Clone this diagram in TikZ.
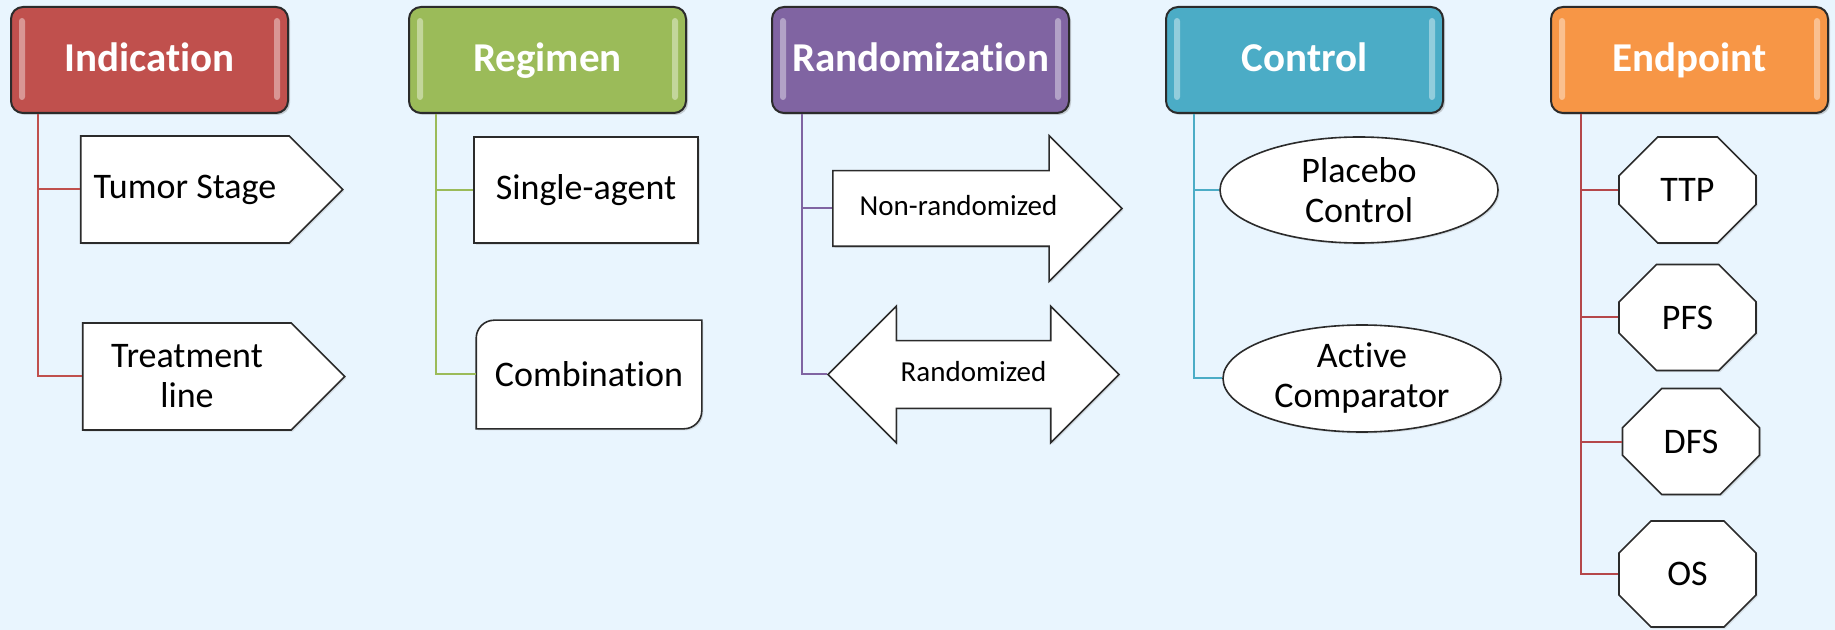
\documentclass[tikz,border=0pt]{standalone}
\usepackage{fontspec}
\setmainfont{Carlito}[Ligatures=NoCommon]
\usetikzlibrary{
  shapes.geometric,shapes.symbols,shapes.arrows,shapes.misc,
  shadows,backgrounds
}

\definecolor{bgblue}{HTML}{E9F5FE}
\definecolor{indred}{HTML}{C0504D}
\definecolor{reggreen}{HTML}{9BBB59}
\definecolor{ranpurple}{HTML}{8064A2}
\definecolor{conteal}{HTML}{4BACC6}
\definecolor{endorange}{HTML}{F79646}
\definecolor{endline}{HTML}{B5474A}
\definecolor{edge}{HTML}{2B2B2B}

\tikzset{
  header/.style={draw=edge,line width=1pt,rounded corners=6pt,fill=#1,
    minimum width=138.5pt,minimum height=53pt,inner sep=0pt,
    text height=15pt,text depth=3pt,
    text=white,font=\fontsize{20.5}{24}\selectfont\bfseries,
    drop shadow={shadow xshift=1pt,shadow yshift=-1pt,opacity=.35}},
  leaf/.style={draw=edge,line width=.8pt,fill=white,inner sep=0pt,
    align=center,font=\fontsize{18}{20}\selectfont},
  softshadow/.style={drop shadow={shadow xshift=.8pt,shadow yshift=-.8pt,opacity=.2}},
  smalltext/.style={font=\fontsize{14.5}{16}\selectfont},
  pentagon/.style={signal,signal to=east,signal pointer angle=90,
    minimum width=131pt,minimum height=53.5pt},
  octagon/.style={chamfered rectangle,chamfered rectangle xsep=13pt,
    chamfered rectangle ysep=15pt,minimum width=68.5pt,minimum height=53pt},
  link/.style={draw=#1,line width=1pt}
}

\begin{document}
\begin{tikzpicture}[x=0.5pt,y=0.5pt]
\useasboundingbox (0,0) rectangle (1835,-630);
\begin{scope}[on background layer]
\fill[bgblue] (0,0) rectangle (1835,-630);
\end{scope}

% column heads
\node[header=indred] (ind) at (149.5,-60) {Indication};
\node[header=reggreen] (reg) at (547.5,-60) {Regimen};
\node[header=ranpurple,minimum width=148.5pt] (ran) at (920.5,-60) {Randomization};
\node[header=conteal] (con) at (1304.5,-60) {Control};
\node[header=endorange] (endp) at (1689.5,-60) {Endpoint};

% glossy strips on the heads
\foreach \h in {ind,reg,ran,con,endp}{
  \fill[white,opacity=.4,rounded corners=1.5pt]
    ([xshift=4.5pt,yshift=-6pt]\h.north west) rectangle ([xshift=7.5pt,yshift=7pt]\h.south west);
  \fill[white,opacity=.4,rounded corners=1.5pt]
    ([xshift=-4.5pt,yshift=-6pt]\h.north east) rectangle ([xshift=-7.5pt,yshift=7pt]\h.south east);
}

% indication
\node[leaf,softshadow,pentagon] (ts) at (185,-189.5) {Tumor Stage};
\node[leaf,softshadow,pentagon] (tl) at (187,-376.5) {Treatment\\line};

% regimen
\node[leaf,softshadow,minimum width=112pt,minimum height=53pt] (sa) at (586,-190) {Single-agent};
\node[leaf,draw=none,fill=none,minimum width=112pt,minimum height=53.5pt] (cb) at (589,-374.5) {Combination};
\begin{scope}[on background layer]
\draw[leaf,softshadow] ([xshift=9pt]cb.north west) -- (cb.north east) -- ([yshift=9pt]cb.south east)
  arc[start angle=0,end angle=-90,radius=9pt] -- (cb.south west) -- ([yshift=-9pt]cb.north west)
  arc[start angle=180,end angle=90,radius=9pt] -- cycle;
\end{scope}

% randomization
\node[leaf,softshadow,smalltext,single arrow,single arrow tip angle=90,single arrow head extend=17.5pt,
  text height=10pt,text depth=3pt,inner ysep=12pt,
  minimum width=72pt,minimum height=144.5pt] (nr) at (958.5,-208.5) {Non-randomized};
\node[leaf,softshadow,smalltext,double arrow,double arrow tip angle=90,double arrow head extend=17.25pt,
  text height=10pt,text depth=3pt,inner ysep=10pt,
  minimum width=67.5pt,minimum height=145.5pt] (rd) at (973.5,-374.5) {Randomized};

% control
\node[leaf,softshadow,ellipse,minimum width=139pt,minimum height=53pt] (pc) at (1359,-190) {Placebo\\Control};
\node[leaf,softshadow,ellipse,minimum width=139pt,minimum height=53.5pt] (ac) at (1362,-378.5) {Active\\Comparator};

% endpoint
\node[leaf,softshadow,octagon] (ttp) at (1687.5,-190) {TTP};
\node[leaf,softshadow,octagon] (pfs) at (1687.5,-317.5) {PFS};
\node[leaf,softshadow,octagon] (dfs) at (1691,-441.5) {DFS};
\node[leaf,softshadow,octagon] (os) at (1687.5,-574) {OS};

% connectors
\foreach \c in {ts,tl} \draw[link=indred] ([xshift=14pt]ind.south west) |- (\c.west);
\foreach \c in {sa,cb} \draw[link=reggreen] ([xshift=14pt]reg.south west) |- (\c.west);
\foreach \c in {nr,rd} \draw[link=ranpurple] ([xshift=15.5pt]ran.south west) |- (\c.west);
\foreach \c in {pc,ac} \draw[link=conteal] ([xshift=14.5pt]con.south west) |- (\c.west);
\foreach \c in {ttp,pfs,dfs,os} \draw[link=endline] ([xshift=15.5pt]endp.south west) |- (\c.west);
\end{tikzpicture}
\end{document}
